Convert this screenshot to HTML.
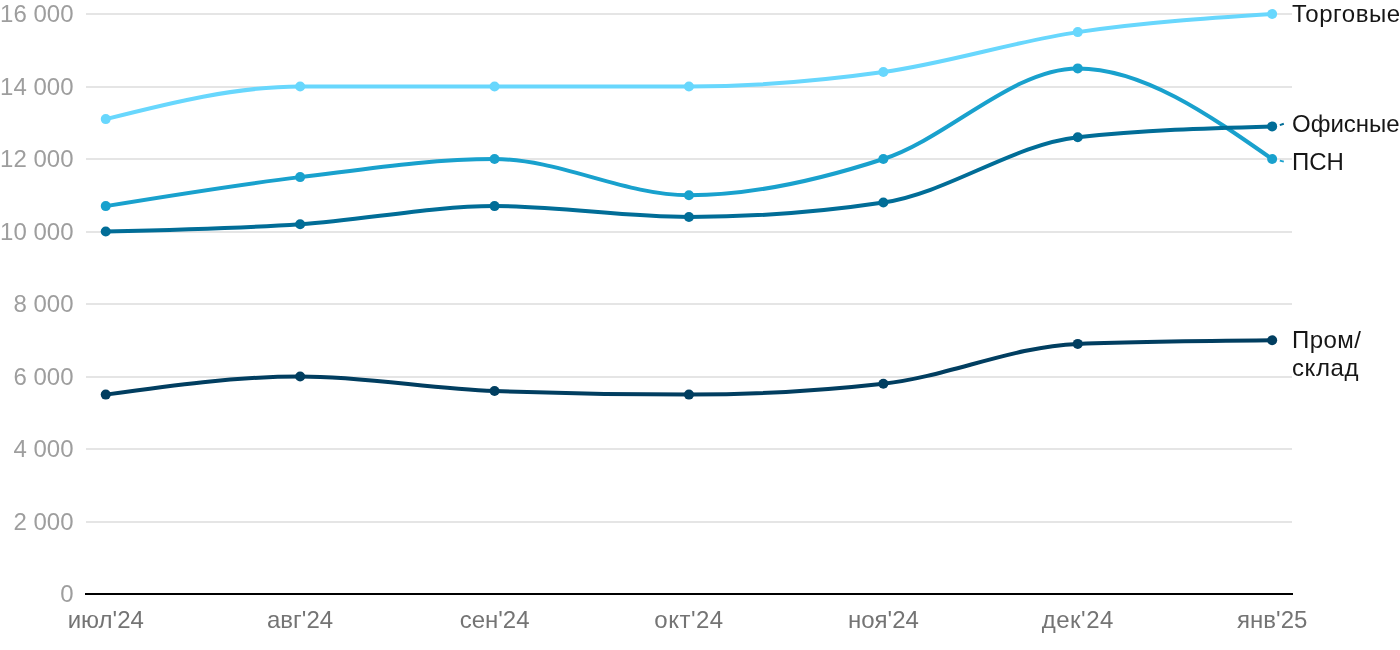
<!DOCTYPE html>
<html><head><meta charset="utf-8"><style>
html,body{margin:0;padding:0;background:#fff;width:1400px;height:650px;overflow:hidden}
svg{display:block;will-change:transform}
text{font-family:"Liberation Sans",sans-serif;font-size:24px}
.yl{fill:#9e9e9e;text-anchor:end}
.xl{fill:#747474;text-anchor:middle}
.lb{fill:#161616}
</style></head><body>
<svg width="1400" height="650" viewBox="0 0 1400 650">
<rect x="86" y="13" width="1206" height="2" fill="#e5e5e5"/>
<rect x="86" y="86" width="1206" height="2" fill="#e5e5e5"/>
<rect x="86" y="158" width="1206" height="2" fill="#e5e5e5"/>
<rect x="86" y="231" width="1206" height="2" fill="#e5e5e5"/>
<rect x="86" y="303" width="1206" height="2" fill="#e5e5e5"/>
<rect x="86" y="376" width="1206" height="2" fill="#e5e5e5"/>
<rect x="86" y="448" width="1206" height="2" fill="#e5e5e5"/>
<rect x="86" y="521" width="1206" height="2" fill="#e5e5e5"/>
<rect x="85" y="593" width="1208" height="2" fill="#000"/>
<text x="73.5" y="22" class="yl">16 000</text>
<text x="73.5" y="95" class="yl">14 000</text>
<text x="73.5" y="167" class="yl">12 000</text>
<text x="73.5" y="240" class="yl">10 000</text>
<text x="73.5" y="312" class="yl">8 000</text>
<text x="73.5" y="385" class="yl">6 000</text>
<text x="73.5" y="457" class="yl">4 000</text>
<text x="73.5" y="530" class="yl">2 000</text>
<text x="73.5" y="602" class="yl">0</text>
<text x="105.8" y="627.5" class="xl">июл'24</text>
<text x="300.1" y="627.5" class="xl">авг'24</text>
<text x="494.6" y="627.5" class="xl">сен'24</text>
<text x="689.0" y="627.5" class="xl" style="letter-spacing:0.5px">окт'24</text>
<text x="883.4" y="627.5" class="xl">ноя'24</text>
<text x="1077.8" y="627.5" class="xl" style="letter-spacing:0.5px">дек'24</text>
<text x="1272.2" y="627.5" class="xl">янв'25</text>
<path d="M105.75,119.12 C170.55,102.81 235.35,86.50 300.15,86.50 C364.95,86.50 429.75,86.50 494.55,86.50 C559.35,86.50 624.15,86.50 688.95,86.50 C753.75,86.50 818.55,81.06 883.35,72.00 C948.15,62.94 1012.95,41.79 1077.75,32.12 C1142.55,22.46 1207.35,18.23 1272.15,14.00" fill="none" stroke="#68d7fd" stroke-width="4"/>
<path d="M105.75,206.12 C170.55,195.55 235.35,184.98 300.15,177.12 C364.95,169.27 429.75,159.00 494.55,159.00 C559.35,159.00 624.15,195.25 688.95,195.25 C753.75,195.25 818.55,180.15 883.35,159.00 C948.15,137.85 1012.95,68.38 1077.75,68.38 C1142.55,68.38 1207.35,113.69 1272.15,159.00" fill="none" stroke="#19a1cd" stroke-width="4"/>
<path d="M105.75,231.50 C170.55,229.99 235.35,228.48 300.15,224.25 C364.95,220.02 429.75,206.12 494.55,206.12 C559.35,206.12 624.15,217.00 688.95,217.00 C753.75,217.00 818.55,212.17 883.35,202.50 C948.15,192.83 1012.95,144.50 1077.75,137.25 C1142.55,130.00 1207.35,128.19 1272.15,126.38" fill="none" stroke="#016d97" stroke-width="4"/>
<path d="M105.75,394.62 C170.55,385.56 235.35,376.50 300.15,376.50 C364.95,376.50 429.75,388.58 494.55,391.00 C559.35,393.42 624.15,394.62 688.95,394.62 C753.75,394.62 818.55,391.00 883.35,383.75 C948.15,376.50 1012.95,346.29 1077.75,343.88 C1142.55,341.46 1207.35,340.85 1272.15,340.25" fill="none" stroke="#013e60" stroke-width="4"/>
<circle cx="105.75" cy="119.12" r="5" fill="#68d7fd"/>
<circle cx="300.15" cy="86.50" r="5" fill="#68d7fd"/>
<circle cx="494.55" cy="86.50" r="5" fill="#68d7fd"/>
<circle cx="688.95" cy="86.50" r="5" fill="#68d7fd"/>
<circle cx="883.35" cy="72.00" r="5" fill="#68d7fd"/>
<circle cx="1077.75" cy="32.12" r="5" fill="#68d7fd"/>
<circle cx="1272.15" cy="14.00" r="5" fill="#68d7fd"/>
<circle cx="105.75" cy="206.12" r="5" fill="#19a1cd"/>
<circle cx="300.15" cy="177.12" r="5" fill="#19a1cd"/>
<circle cx="494.55" cy="159.00" r="5" fill="#19a1cd"/>
<circle cx="688.95" cy="195.25" r="5" fill="#19a1cd"/>
<circle cx="883.35" cy="159.00" r="5" fill="#19a1cd"/>
<circle cx="1077.75" cy="68.38" r="5" fill="#19a1cd"/>
<circle cx="1272.15" cy="159.00" r="5" fill="#19a1cd"/>
<circle cx="105.75" cy="231.50" r="5" fill="#016d97"/>
<circle cx="300.15" cy="224.25" r="5" fill="#016d97"/>
<circle cx="494.55" cy="206.12" r="5" fill="#016d97"/>
<circle cx="688.95" cy="217.00" r="5" fill="#016d97"/>
<circle cx="883.35" cy="202.50" r="5" fill="#016d97"/>
<circle cx="1077.75" cy="137.25" r="5" fill="#016d97"/>
<circle cx="1272.15" cy="126.38" r="5" fill="#016d97"/>
<circle cx="105.75" cy="394.62" r="5" fill="#013e60"/>
<circle cx="300.15" cy="376.50" r="5" fill="#013e60"/>
<circle cx="494.55" cy="391.00" r="5" fill="#013e60"/>
<circle cx="688.95" cy="394.62" r="5" fill="#013e60"/>
<circle cx="883.35" cy="383.75" r="5" fill="#013e60"/>
<circle cx="1077.75" cy="343.88" r="5" fill="#013e60"/>
<circle cx="1272.15" cy="340.25" r="5" fill="#013e60"/>
<line x1="1279.8" y1="125.1" x2="1283.8" y2="123.8" stroke="#016d97" stroke-width="2"/>
<line x1="1279.8" y1="160.6" x2="1283.8" y2="161.6" stroke="#19a1cd" stroke-width="2"/>
<text x="1292" y="21.8" class="lb" style="letter-spacing:0.53px">Торговые</text>
<text x="1292" y="132.1" class="lb">Офисные</text>
<text x="1292" y="170.2" class="lb">ПСН</text>
<text x="1292" y="348" class="lb" style="letter-spacing:0.45px">Пром/</text>
<text x="1292" y="376" class="lb" style="letter-spacing:0.57px">склад</text>
</svg>
</body></html>
